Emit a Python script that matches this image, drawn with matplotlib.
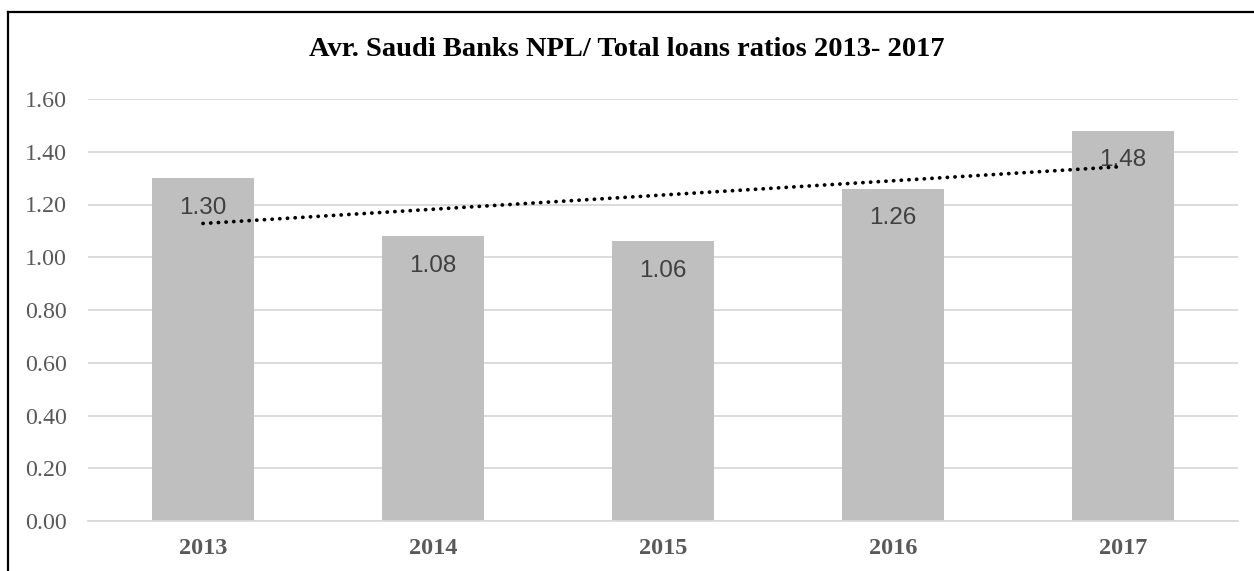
import numpy as np
import matplotlib.pyplot as plt
from matplotlib.lines import Line2D

years = ["2013", "2014", "2015", "2016", "2017"]
ratios = [1.30, 1.08, 1.06, 1.26, 1.48]
yticks = [0.0, 0.2, 0.4, 0.6, 0.8, 1.0, 1.2, 1.4, 1.6]
title = "Avr. Saudi Banks NPL/ Total loans ratios 2013- 2017"


def main():
    fig = plt.figure(figsize=(12.54, 5.71), dpi=100)
    ax = fig.add_axes([88 / 1254, 1 - 521 / 571, (1238 - 88) / 1254, (521 - 99) / 571])

    x = np.arange(len(years))
    ax.bar(x, ratios, width=0.44, color="#bfbfbf", zorder=2)

    # linear trend line over the bars
    k, b = np.polyfit(x, ratios, 1)
    ax.plot(x[[0, -1]], k * x[[0, -1]] + b, color="black", lw=2.7,
            linestyle=(0, (0.05, 2.0)), dash_capstyle="round", zorder=4)

    for xi, v in zip(x, ratios):
        ax.text(xi, v - 0.112, f"{v:.2f}", ha="center", va="center",
                fontsize=17.5, color="#404040", family="Liberation Sans", zorder=3)

    ax.set_xlim(-0.5, len(years) - 0.5)
    ax.set_ylim(0, 1.6)
    ax.set_yticks(yticks)
    ax.set_yticklabels([f"{t:.2f}" for t in yticks], family="Liberation Serif",
                       fontsize=17.3, color="#595959")
    ax.set_xticks(x)
    ax.set_xticklabels(years, family="Liberation Serif", fontsize=17.5,
                       fontweight="bold", color="#595959")
    ax.tick_params(axis="y", length=0, pad=15)
    ax.tick_params(axis="x", length=0, pad=12)
    ax.grid(axis="y", color="#d9d9d9", lw=1.3, zorder=0)
    for s in ["top", "right", "left"]:
        ax.spines[s].set_visible(False)
    ax.spines["bottom"].set_color("#d9d9d9")
    ax.spines["bottom"].set_linewidth(1.3)

    fig.text(0.5, 1 - 50 / 571, title, ha="center", va="center",
             family="Liberation Serif", fontsize=20.5, fontweight="bold")

    # chart frame (cut off on the right and bottom in the original)
    fig.add_artist(Line2D([8 / 1254, 8 / 1254], [0, 1 - 12 / 571], color="black", lw=1.6))
    fig.add_artist(Line2D([8 / 1254, 1], [1 - 12 / 571, 1 - 12 / 571], color="black", lw=1.6))

    fig.savefig("out.png", dpi=100)


if __name__ == "__main__":
    main()
